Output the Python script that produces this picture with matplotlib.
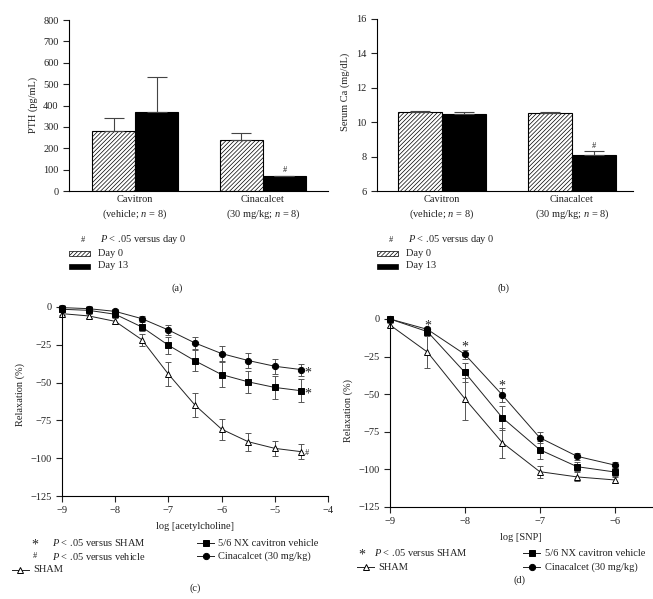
import numpy as np
import matplotlib
matplotlib.use("Agg")
import matplotlib.pyplot as plt
from matplotlib.patches import Rectangle
from matplotlib.lines import Line2D

# ---- data ----
groups = ["Cavitron\n(vehicle; $n$ = 8)", "Cinacalcet\n(30 mg/kg; $n$ = 8)"]
pth_day0 = [280, 240]
pth_day0_err = [60, 33]
pth_day13 = [370, 68]
pth_day13_err = [165, 4]
ca_day0 = [10.6, 10.55]
ca_day0_err = [0.08, 0.07]
ca_day13 = [10.48, 8.12]
ca_day13_err = [0.14, 0.18]

ach_x = [-9, -8.5, -8, -7.5, -7, -6.5, -6, -5.5, -5, -4.5]
ach_sham = [-4.4, -5.9, -9.5, -21.6, -44.4, -64.9, -80.8, -89.1, -93.5, -95.7]
ach_sham_err = [1, 1.5, 2, 4, 8, 8, 7, 6, 5, 5]
ach_nx = [-1.5, -2.2, -4.8, -13.2, -25.3, -35.6, -44.7, -49.5, -53.2, -55.4]
ach_nx_err = [1, 1, 1.5, 3, 5.5, 7, 8, 7.5, 7.5, 7.5]
ach_cina = [-0.4, -1.1, -2.9, -7.7, -15.2, -23.8, -30.8, -35.4, -39.2, -41.4]
ach_cina_err = [1.5, 1.5, 1.5, 1.5, 3, 4, 5, 5, 5, 4]

snp_x = [-9, -8.5, -8, -7.5, -7, -6.5, -6]
snp_sham = [-4, -22, -53, -82.2, -101.5, -105, -107]
snp_sham_err = [1.5, 10.5, 14, 10, 4, 3, 2]
snp_nx = [0, -8.4, -35.5, -65.6, -86.9, -98.2, -101.7]
snp_nx_err = [0, 2, 6.5, 8, 6, 3, 2.5]
snp_cina = [0, -6.9, -23.5, -50.5, -78.9, -91.3, -97.1]
snp_cina_err = [0, 1.5, 3, 4.5, 3.5, 2.5, 2]
snp_star_x = [-8.5, -8, -7.5]
snp_star_y = [-2.4, -16.8, -42.3]

W, H = 653, 599
plt.rcParams['font.family'] = ['Liberation Serif', 'DejaVu Serif']
plt.rcParams['font.size'] = 7.5
plt.rcParams['mathtext.fontset'] = 'custom'
plt.rcParams['mathtext.rm'] = 'Liberation Serif'
plt.rcParams['mathtext.it'] = 'Liberation Serif:italic'
plt.rcParams['hatch.linewidth'] = 0.5
plt.rcParams['axes.linewidth'] = 0.8
plt.rcParams['xtick.major.width'] = 0.8
plt.rcParams['ytick.major.width'] = 0.8
ink = '#222222'
HATCH = '////////'

fig = plt.figure(figsize=(W / 100, H / 100), dpi=100)


def fx(x):
    return x / W


def fy(y):
    return 1 - y / H


def add_axes(l, t, r, b):
    ax = fig.add_axes([fx(l), fy(b), fx(r) - fx(l), fy(t) - fy(b)])
    for s in ['top', 'right']:
        ax.spines[s].set_visible(False)
    ax.tick_params(direction='out', length=4, width=0.8, colors=ink, labelsize=7.5)
    return ax


def ftext(x, y, s, **kw):
    fig.text(fx(x), fy(y), s, va='center', color=ink, **kw)


# ---- bar panels ----
def bar_panel(ax, d0, e0, d13, e13, w):
    x = np.arange(len(groups))
    ax.bar(x - w / 2, d0, w, color='white', edgecolor='black', hatch=HATCH, linewidth=0.8)
    ax.bar(x + w / 2, d13, w, color='black', edgecolor='black', linewidth=0.8)
    ax.errorbar(x - w / 2, d0, yerr=[np.zeros(len(x)), e0], fmt='none',
                ecolor='#444444', elinewidth=0.8, capsize=7.5, capthick=0.8)
    ax.errorbar(x + w / 2, d13, yerr=[np.zeros(len(x)), e13], fmt='none',
                ecolor='#444444', elinewidth=0.8, capsize=7.5, capthick=0.8)
    ax.set_xticks(x)
    ax.set_xticklabels(groups, linespacing=1.4)
    ax.tick_params(axis='x', length=0, pad=3)


axa = add_axes(69, 20, 328, 191)
bar_panel(axa, pth_day0, pth_day0_err, pth_day13, pth_day13_err, 0.336)
axa.set_xlim(-0.516, 1.508)
axa.set_ylim(0, 800)
axa.set_yticks(np.arange(0, 801, 100))
axa.text(1 + 0.168, pth_day13[1] + pth_day13_err[1] + 6, '#', ha='center', va='bottom', fontsize=6, color=ink)
ftext(33, 105, 'PTH (pg/mL)', rotation=90, ha='center')

axb = add_axes(377, 19, 633, 191)
bar_panel(axb, ca_day0, ca_day0_err, ca_day13, ca_day13_err, 0.34)
axb.set_xlim(-0.50, 1.47)
axb.set_ylim(6, 16)
axb.set_yticks(np.arange(6, 17, 2))
axb.text(1 + 0.17, ca_day13[1] + ca_day13_err[1] + 0.1, '#', ha='center', va='bottom', fontsize=6, color=ink)
ftext(345, 92, 'Serum Ca (mg/dL)', rotation=90, ha='center')

# bar legends
for x0 in [69, 377]:
    ftext(x0 + 14, 240, '#', ha='center', fontsize=6)
    ftext(x0 + 31, 240, '$P$ < .05 versus day 0', ha='left')
    fig.add_artist(Rectangle((fx(x0), fy(255.5)), fx(21), 4.5 / H, transform=fig.transFigure,
                             facecolor='white', edgecolor='black', hatch=HATCH, linewidth=0.5))
    ftext(x0 + 29, 253, 'Day 0', ha='left')
    fig.add_artist(Rectangle((fx(x0), fy(269)), fx(21), 5 / H, transform=fig.transFigure,
                             facecolor='black', edgecolor='black', linewidth=0.5))
    ftext(x0 + 29, 266, 'Day 13', ha='left')
ftext(177, 288, '(a)', ha='center')
ftext(504, 288, '(b)', ha='center')


# ---- line panels ----
def curve(ax, x, y, e, marker, face):
    ax.errorbar(x, y, yerr=e, fmt='-', color='#222222', linewidth=0.7, marker=marker,
                markersize=4.5, markerfacecolor=face, markeredgecolor='black', markeredgewidth=0.7,
                ecolor='#555555', elinewidth=0.7, capsize=2.5, capthick=0.7, clip_on=False)


def star(ax, x, y):
    ax.annotate('*', (x, y), xytext=(0, -4.8), textcoords='offset points',
                ha='center', va='baseline', fontsize=10, color=ink)


axc = add_axes(62, 307, 328, 496)
curve(axc, ach_x, ach_sham, ach_sham_err, '^', 'white')
curve(axc, ach_x, ach_nx, ach_nx_err, 's', 'black')
curve(axc, ach_x, ach_cina, ach_cina_err, 'o', 'black')
axc.set_xlim(-9, -4)
axc.set_ylim(-125, 0)
axc.set_yticks(np.arange(-125, 1, 25))
axc.set_xticks(np.arange(-9, -3, 1))
star(axc, -4.38, ach_cina[-1])
star(axc, -4.38, ach_nx[-1])
axc.annotate('#', (-4.4, ach_sham[-1]), xytext=(0, -2.5), textcoords='offset points',
             ha='center', va='baseline', fontsize=6, color=ink)
axc.set_xlabel('log [acetylcholine]', color=ink, labelpad=5)
ftext(20, 395, 'Relaxation (%)', rotation=90, ha='center')

axd = add_axes(390, 319, 652, 507)
curve(axd, snp_x, snp_sham, snp_sham_err, '^', 'white')
curve(axd, snp_x, snp_nx, snp_nx_err, 's', 'black')
curve(axd, snp_x, snp_cina, snp_cina_err, 'o', 'black')
axd.set_xlim(-9, -5.5)
axd.set_ylim(-125, 0)
axd.set_yticks(np.arange(-125, 1, 25))
axd.set_xticks(np.arange(-9, -5, 1))
for sx, sy in zip(snp_star_x, snp_star_y):
    star(axd, sx, sy)
axd.set_xlabel('log [SNP]', color=ink, labelpad=5)
ftext(348, 410, 'Relaxation (%)', rotation=90, ha='center')


def leg_line(x0, y, marker, face):
    fig.add_artist(Line2D([fx(x0), fx(x0 + 17)], [fy(y), fy(y)], transform=fig.transFigure,
                          color='#222222', linewidth=0.7))
    fig.add_artist(Line2D([fx(x0 + 8.5)], [fy(y)], transform=fig.transFigure, marker=marker,
                          markersize=4.5, markerfacecolor=face, markeredgecolor='black',
                          markeredgewidth=0.7, linestyle='none'))


def fstar(x, y):
    ftext(x, y + 2.5, '*', ha='center', fontsize=10)


# legend c
fstar(35, 543)
ftext(52, 543, '$P$ < .05 versus SHAM', ha='left')
ftext(35, 556, '#', ha='center', fontsize=6)
ftext(52, 556, '$P$ < .05 versus vehicle', ha='left')
leg_line(12, 570, '^', 'white')
ftext(33, 570, 'SHAM', ha='left')
leg_line(197, 543, 's', 'black')
ftext(218, 543, '5/6 NX cavitron vehicle', ha='left')
leg_line(197, 556, 'o', 'black')
ftext(218, 556, 'Cinacalcet (30 mg/kg)', ha='left')
ftext(195, 588, '(c)', ha='center')

# legend d
fstar(362, 553)
ftext(374, 553, '$P$ < .05 versus SHAM', ha='left')
leg_line(357, 567, '^', 'white')
ftext(378, 567, 'SHAM', ha='left')
leg_line(523, 553, 's', 'black')
ftext(545, 553, '5/6 NX cavitron vehicle', ha='left')
leg_line(523, 567, 'o', 'black')
ftext(545, 567, 'Cinacalcet (30 mg/kg)', ha='left')
ftext(519, 580, '(d)', ha='center')

fig.savefig('out.png', dpi=100)
